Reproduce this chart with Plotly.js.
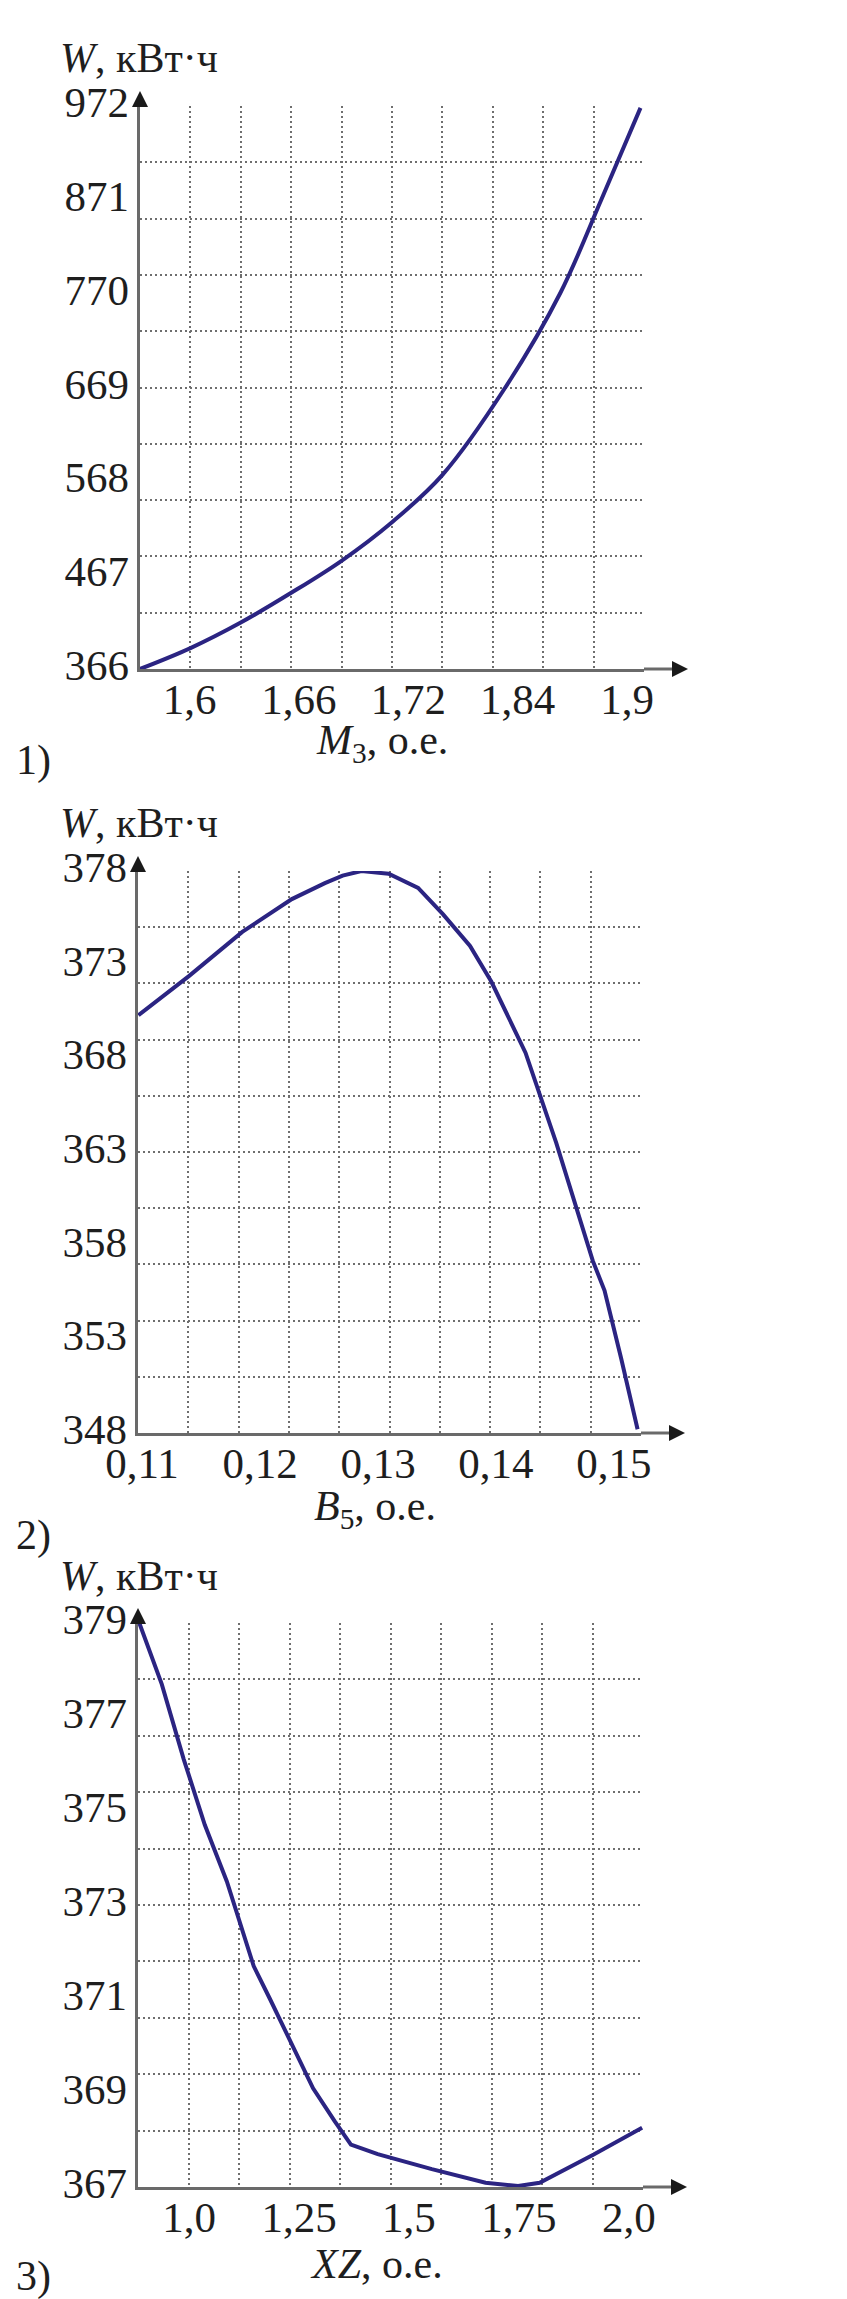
<!DOCTYPE html>
<html>
<head>
<meta charset="utf-8">
<script src="https://cdn.plot.ly/plotly-3.0.1.min.js"></script>
<style>
  html, body { margin: 0; padding: 0; background: #ffffff; }
  #chart { width: 847px; height: 2299px; }
</style>
</head>
<body>
<div id="chart"></div>
<script>
// ---------------- DATA ----------------
// Panel 1: W vs M3
const m3 = [1.566, 1.6006, 1.6351, 1.6697, 1.7042, 1.7388, 1.7734, 1.8165, 1.8543, 1.8823, 1.9092];
const wM3 = [366, 388.5, 416, 448, 482.5, 524, 575, 669, 771, 871, 970];
const m3TickVals = [1.6, 1.675, 1.75, 1.825, 1.9];
const m3TickText = ['1,6', '1,66', '1,72', '1,84', '1,9'];
const m3Range = [1.566, 1.9116];
const wM3Range = [366, 972];
const wM3Ticks = [366, 467, 568, 669, 770, 871, 972];

// Panel 2: W vs B5
const b5 = [0.1097, 0.1140, 0.1185, 0.1227, 0.1255, 0.1270, 0.1286, 0.1309, 0.1334, 0.1355, 0.1378, 0.1396, 0.1425, 0.1451, 0.1482, 0.1492, 0.1506, 0.1520];
const wB5 = [370.3, 372.4, 374.75, 376.5, 377.35, 377.75, 378.0, 377.85, 377.1, 375.7, 374.0, 372.1, 368.3, 363.5, 357.2, 355.6, 352.0, 348.2];
const b5TickVals = [0.11, 0.12, 0.13, 0.14, 0.15];
const b5TickText = ['0,11', '0,12', '0,13', '0,14', '0,15'];
const b5Range = [0.10966, 0.15229];
const wB5Range = [348, 378];
const wB5Ticks = [348, 353, 358, 363, 368, 373, 378];

// Panel 3: W vs XZ
const xz = [0.887, 0.938, 0.988, 1.036, 1.086, 1.147, 1.184, 1.233, 1.282, 1.331, 1.368, 1.429, 1.552, 1.674, 1.748, 1.797, 1.858, 1.920, 2.030];
const wXZ = [379, 377.7, 376.1, 374.7, 373.5, 371.7, 371.0, 370.05, 369.1, 368.4, 367.9, 367.7, 367.38, 367.09, 367.02, 367.09, 367.38, 367.69, 368.26];
const xzTickVals = [1.0, 1.25, 1.5, 1.75, 2.0];
const xzTickText = ['1,0', '1,25', '1,5', '1,75', '2,0'];
const xzRange = [0.884, 2.032];
const wXZRange = [367, 379];
const wXZTicks = [367, 369, 371, 373, 375, 377, 379];

const yTitles = ['<i>W</i>, кВт·ч', '<i>W</i>, кВт·ч', '<i>W</i>, кВт·ч'];
const xTitles = ['<i>M</i><sub>3</sub>, о.е.', '<i>B</i><sub>5</sub>, о.е.', '<i>XZ</i>, о.е.'];
const panelLabels = ['1)', '2)', '3)'];

// ---------------- LAYOUT ----------------
const FIG_W = 847, FIG_H = 2299;
const fx = p => p / FIG_W;
const fy = p => 1 - p / FIG_H;

const panels = [
  {x: m3, y: wM3, xr: m3Range, yr: wM3Range, xtv: m3TickVals, xtt: m3TickText, ytv: wM3Ticks, shape: 'spline',
   box: {l: 140, r: 644, t: 106, b: 669}, yTitleY: 58, xTitleX: 382, xTitleY: 743, labelY: 760},
  {x: b5, y: wB5, xr: b5Range, yr: wB5Range, xtv: b5TickVals, xtt: b5TickText, ytv: wB5Ticks, shape: 'linear',
   box: {l: 138, r: 641, t: 871, b: 1433}, yTitleY: 823, xTitleX: 375, xTitleY: 1509, labelY: 1535},
  {x: xz, y: wXZ, xr: xzRange, yr: wXZRange, xtv: xzTickVals, xtt: xzTickText, ytv: wXZTicks, shape: 'linear',
   box: {l: 138, r: 643, t: 1623, b: 2187}, yTitleY: 1576, xTitleX: 376, xTitleY: 2264, labelY: 2276}
];

const FONT = 'Liberation Serif, Times New Roman, serif';
const TXT = '#1e1e1e';
const AXIS_COLOR = '#6a6a6a';
const GRID_COLOR = '#6e6e6e';
const LINE_COLOR = '#2b2482';
const TICK_SIZE = 43;
const TEXT_SIZE = 42;

function gridVals(r) {
  const out = [];
  for (let k = 0; k <= 10; k++) out.push(k === 10 ? r[1] : r[0] + k * (r[1] - r[0]) / 10);
  return out;
}

const data = [];
const layout = {
  width: FIG_W, height: FIG_H,
  margin: {l: 0, r: 0, t: 0, b: 0, pad: 0},
  paper_bgcolor: '#ffffff', plot_bgcolor: 'rgba(0,0,0,0)',
  showlegend: false,
  font: {family: FONT, color: TXT, size: TEXT_SIZE},
  shapes: [], annotations: []
};

panels.forEach((p, i) => {
  const n = i + 1, m = i + 4;
  const xs = n === 1 ? '' : String(n);
  const xId = 'x' + xs, yId = 'y' + xs;
  const bx = p.box;

  data.push({
    type: 'scatter', mode: 'lines', x: p.x, y: p.y,
    xaxis: xId, yaxis: yId,
    line: {color: LINE_COLOR, width: 4, shape: p.shape, smoothing: 1},
    hoverinfo: 'skip'
  });
  data.push({type: 'scatter', mode: 'lines', x: [], y: [], xaxis: 'x' + m, yaxis: 'y' + m, hoverinfo: 'skip'});

  // main axes: axis line + dotted grid
  layout['xaxis' + xs] = {
    domain: [fx(bx.l), fx(bx.r)], range: p.xr, anchor: yId,
    showline: true, linecolor: AXIS_COLOR, linewidth: 3,
    showgrid: true, gridcolor: GRID_COLOR, gridwidth: 2, griddash: '2px,3px',
    tickmode: 'array', tickvals: gridVals(p.xr), showticklabels: false, ticks: '',
    zeroline: false, fixedrange: true, layer: 'below traces'
  };
  layout['yaxis' + xs] = {
    domain: [fy(bx.b), fy(bx.t)], range: p.yr, anchor: xId,
    showline: true, linecolor: AXIS_COLOR, linewidth: 3,
    showgrid: true, gridcolor: GRID_COLOR, gridwidth: 2, griddash: '2px,3px',
    tickmode: 'array', tickvals: gridVals(p.yr), showticklabels: false, ticks: '',
    zeroline: false, fixedrange: true, layer: 'below traces'
  };
  // overlay axes: tick labels
  layout['xaxis' + m] = {
    overlaying: xId, anchor: yId, side: 'bottom', range: p.xr,
    showline: false, showgrid: false, zeroline: false, ticks: '',
    tickmode: 'array', tickvals: p.xtv, ticktext: p.xtt,
    tickfont: {family: FONT, size: TICK_SIZE, color: TXT}, ticklabelstandoff: 1, fixedrange: true
  };
  layout['yaxis' + m] = {
    overlaying: yId, anchor: xId, side: 'left', range: p.yr,
    showline: false, showgrid: false, zeroline: false, ticks: '',
    tickmode: 'array', tickvals: p.ytv, ticktext: p.ytv.map(String),
    tickfont: {family: FONT, size: TICK_SIZE, color: TXT}, ticklabelstandoff: 10, ticklabelshift: -4,
    fixedrange: true
  };

  // axis extension and arrows
  layout.shapes.push({
    type: 'line', xref: 'paper', yref: 'paper', layer: 'above',
    x0: fx(bx.r), x1: fx(bx.r + 30), y0: fy(bx.b), y1: fy(bx.b),
    line: {color: AXIS_COLOR, width: 3}
  });
  layout.shapes.push({
    type: 'path', xref: 'paper', yref: 'paper', layer: 'above',
    path: `M ${fx(bx.l)} ${fy(bx.t - 15)} L ${fx(bx.l - 8)} ${fy(bx.t + 1)} L ${fx(bx.l + 8)} ${fy(bx.t + 1)} Z`,
    fillcolor: '#1a1a1a', line: {width: 0}
  });
  layout.shapes.push({
    type: 'path', xref: 'paper', yref: 'paper', layer: 'above',
    path: `M ${fx(bx.r + 44)} ${fy(bx.b)} L ${fx(bx.r + 28)} ${fy(bx.b - 8)} L ${fx(bx.r + 28)} ${fy(bx.b + 8)} Z`,
    fillcolor: '#1a1a1a', line: {width: 0}
  });

  // texts
  layout.annotations.push({
    xref: 'paper', yref: 'paper', x: fx(58), y: fy(p.yTitleY), xanchor: 'left', yanchor: 'middle',
    text: yTitles[i], showarrow: false, font: {family: FONT, size: TEXT_SIZE, color: TXT}
  });
  layout.annotations.push({
    xref: 'paper', yref: 'paper', x: fx(p.xTitleX), y: fy(p.xTitleY), xanchor: 'center', yanchor: 'middle',
    text: xTitles[i], showarrow: false, font: {family: FONT, size: TEXT_SIZE, color: TXT}
  });
  layout.annotations.push({
    xref: 'paper', yref: 'paper', x: fx(14), y: fy(p.labelY), xanchor: 'left', yanchor: 'middle',
    text: panelLabels[i], showarrow: false, font: {family: FONT, size: TEXT_SIZE, color: TXT}
  });
});

Plotly.newPlot('chart', data, layout, {staticPlot: true, displayModeBar: false});
</script>
</body>
</html>
